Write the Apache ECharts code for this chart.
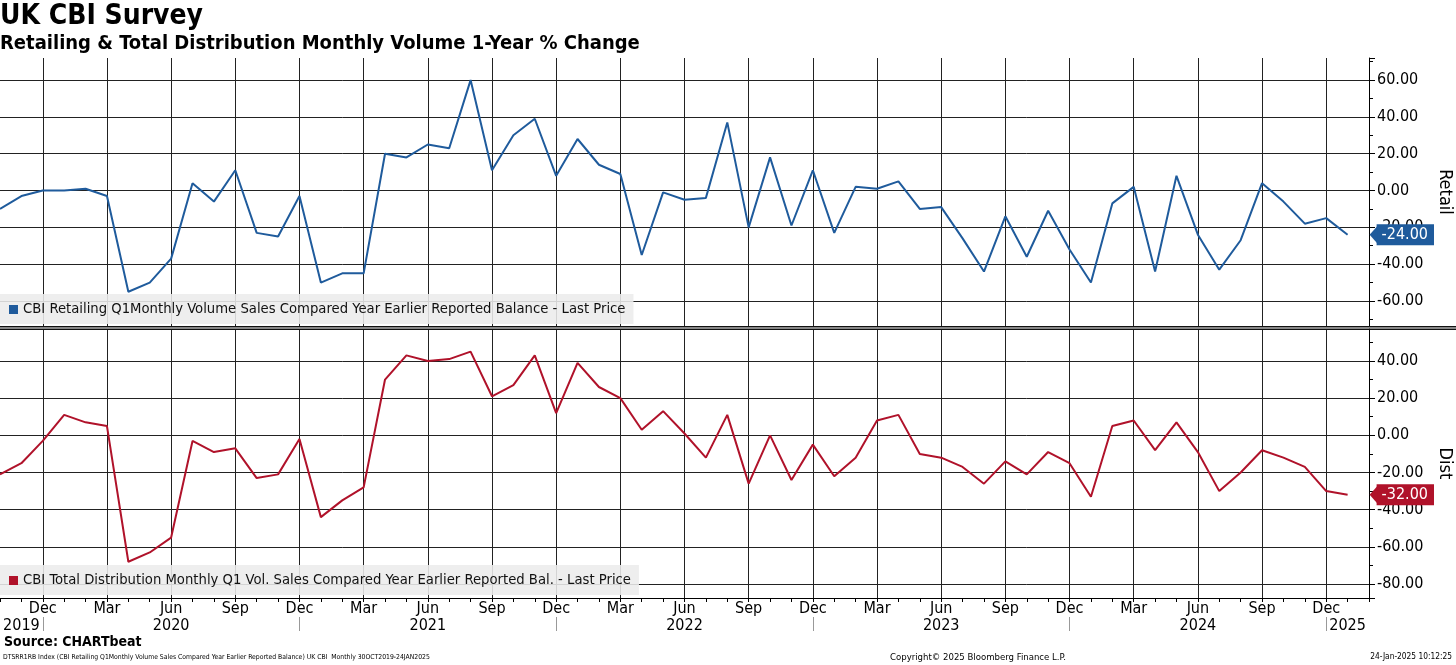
<!DOCTYPE html>
<html>
<head>
<meta charset="utf-8">
<script src="https://cdn.jsdelivr.net/npm/echarts@6/dist/echarts.min.js"></script>
<style>
html,body{margin:0;padding:0;background:#fff;}
#c{width:1456px;height:665px;}
</style>
</head>
<body>
<div id="c"></div>
<script>
const months = [
 '2019-10','2019-11','2019-12',
 '2020-01','2020-02','2020-03','2020-04','2020-05','2020-06','2020-07','2020-08','2020-09','2020-10','2020-11','2020-12',
 '2021-01','2021-02','2021-03','2021-04','2021-05','2021-06','2021-07','2021-08','2021-09','2021-10','2021-11','2021-12',
 '2022-01','2022-02','2022-03','2022-04','2022-05','2022-06','2022-07','2022-08','2022-09','2022-10','2022-11','2022-12',
 '2023-01','2023-02','2023-03','2023-04','2023-05','2023-06','2023-07','2023-08','2023-09','2023-10','2023-11','2023-12',
 '2024-01','2024-02','2024-03','2024-04','2024-05','2024-06','2024-07','2024-08','2024-09','2024-10','2024-11','2024-12',
 '2025-01'
];
const retail = [
 -10,-3,0,
 0,1,-3,-55,-50,-37,4,-6,11,-23,-25,-3,
 -50,-45,-45,20,18,25,23,60,11,30,39,8,
 28,14,9,-35,-1,-5,-4,37,-20,18,-19,11,
 -23,2,1,5,-10,-9,-26,-44,-14,-36,-11,-32,
 -50,-7,2,-44,8,-24,-43,-27,4,-6,-18,-15,
 -24
];
const dist = [
 -21,-15,-3,
 11,7,5,-68,-63,-55,-3,-9,-7,-23,-21,-2,
 -44,-35,-28,30,43,40,41,45,21,27,43,12,
 39,26,20,3,13,1,-12,11,-26,0,-24,-5,
 -22,-12,8,11,-10,-12,-17,-26,-14,-21,-9,-15,
 -33,5,8,-8,7,-9,-30,-20,-8,-12,-17,-30,
 -32
];
const monthNames = ['Jan','Feb','Mar','Apr','May','Jun','Jul','Aug','Sep','Oct','Nov','Dec'];
const yearLabelMonths = ['2019-11','2020-06','2021-06','2022-06','2023-06','2024-06','2025-01'];
const retailName = 'CBI Retailing Q1Monthly Volume Sales Compared Year Earlier Reported Balance - Last Price';
const distName = 'CBI Total Distribution Monthly Q1 Vol. Sales Compared Year Earlier Reported Bal. - Last Price';

const cats = months.concat(['']);
const FONT = "'DejaVu Sans Condensed','DejaVu Sans',sans-serif";
const BLUE = '#1f5b9c', RED = '#b0122a';
const isQuarter = (i, v) => { if (!v) return false; const m = +v.split('-')[1]; return m % 3 === 0; };
const isDec = (i, v) => !!v && v.split('-')[1] === '12';

function xAxisBase(grid, showLabels) {
  return {
    type: 'category', gridIndex: grid, data: cats, boundaryGap: false,
    axisLine: {show: showLabels, onZero: false, lineStyle: {color: '#000', width: 1}},
    axisTick: {show: showLabels, interval: 0, length: 4, lineStyle: {color: '#000'}},
    axisLabel: {show: showLabels, interval: isQuarter, margin: 3, fontSize: 16, color: '#000', fontFamily: FONT,
      formatter: v => v ? monthNames[+v.split('-')[1] - 1] : ''},
    splitLine: {show: true, interval: isQuarter, lineStyle: {color: '#222', width: 1}}
  };
}
function yAxisBase(grid, min, max, name) {
  return {
    type: 'value', gridIndex: grid, position: 'right', min: min, max: max,
    minInterval: 20, maxInterval: 20,
    axisLine: {show: true, lineStyle: {color: '#000', width: 1}},
    axisTick: {show: true, length: 6, lineStyle: {color: '#000'}},
    minorTick: {show: true, splitNumber: 2, length: 4, lineStyle: {color: '#000'}},
    axisLabel: {showMinLabel: false, showMaxLabel: false, margin: 8, fontSize: 16, color: '#000', fontFamily: FONT,
      formatter: v => v.toFixed(2)},
    splitLine: {show: true, showMinLine: false, showMaxLine: false, lineStyle: {color: '#222', width: 1}},
    name: name, nameLocation: 'middle', nameRotate: -90, nameGap: 67,
    nameTextStyle: {fontSize: 18, color: '#000', fontFamily: FONT}
  };
}
function endBox(color) {
  return {
    show: true, formatter: p => Number(p.value).toFixed(2), offset: [22, 0],
    backgroundColor: color, color: '#fff', fontSize: 16, fontFamily: FONT,
    padding: [2, 5, 1, 4], borderColor: color, borderWidth: 1
  };
}
function pointer(seriesVals, color) {
  const last = seriesVals.length - 1;
  return {
    symbol: 'triangle', symbolRotate: 90, symbolSize: [18, 8], symbolOffset: [26, 0],
    itemStyle: {color: color}, label: {show: false}, silent: true,
    data: [{coord: [last, seriesVals[last]]}]
  };
}

const chart = echarts.init(document.getElementById('c'), null, {renderer: 'canvas'});
chart.setOption({
  animation: false,
  backgroundColor: '#fff',
  textStyle: {fontFamily: FONT},
  title: [
    {text: 'UK CBI Survey', left: 0, top: 3, padding: 0, textStyle: {fontSize: 28, fontWeight: 'bold', color: '#000', fontFamily: FONT}},
    {text: 'Retailing & Total Distribution Monthly Volume 1-Year % Change', left: 0, top: 34, padding: 0,
      textStyle: {fontSize: 20, fontWeight: 'bold', color: '#000', fontFamily: FONT}}
  ],
  legend: [
    {data: [retailName], left: 0, top: 294, orient: 'horizontal', icon: 'rect', itemWidth: 9, itemHeight: 9,
      backgroundColor: 'rgba(236,236,236,0.88)', padding: [8, 8, 7, 9], borderRadius: 0, selectedMode: false,
      textStyle: {fontSize: 14.7, color: '#111', fontFamily: FONT}},
    {data: [distName], left: 0, top: 565, orient: 'horizontal', icon: 'rect', itemWidth: 9, itemHeight: 9,
      backgroundColor: 'rgba(236,236,236,0.88)', padding: [8, 8, 7, 9], borderRadius: 0, selectedMode: false,
      textStyle: {fontSize: 14.7, color: '#111', fontFamily: FONT}}
  ],
  grid: [
    {left: 0, right: 87, top: 58, height: 268, containLabel: false, outerBoundsMode: 'none'},
    {left: 0, right: 87, top: 329, height: 269, containLabel: false, outerBoundsMode: 'none'}
  ],
  xAxis: [
    xAxisBase(0, false),
    xAxisBase(1, true),
    {
      type: 'category', gridIndex: 1, data: cats, boundaryGap: false, position: 'bottom', offset: 19,
      axisLine: {show: false, onZero: false},
      axisTick: {show: true, interval: isDec, length: 14, lineStyle: {color: '#999', width: 1}},
      axisLabel: {show: true, interval: (i, v) => yearLabelMonths.indexOf(v) >= 0, margin: 1, fontSize: 16, color: '#000', fontFamily: FONT,
        formatter: v => v ? v.split('-')[0] : ''},
      splitLine: {show: false}
    }
  ],
  yAxis: [
    yAxisBase(0, -73.6, 72, 'Retail'),
    yAxisBase(1, -87.5, 57.2, 'Dist')
  ],
  series: [
    {name: retailName, type: 'line', xAxisIndex: 0, yAxisIndex: 0, data: retail, showSymbol: false, symbol: 'none',
      lineStyle: {color: BLUE, width: 2}, itemStyle: {color: BLUE}, endLabel: endBox(BLUE), markPoint: pointer(retail, BLUE)},
    {name: distName, type: 'line', xAxisIndex: 1, yAxisIndex: 1, data: dist, showSymbol: false, symbol: 'none',
      lineStyle: {color: RED, width: 2}, itemStyle: {color: RED}, endLabel: endBox(RED), markPoint: pointer(dist, RED)}
  ],
  graphic: [
    {type: 'rect', left: 0, top: 326, shape: {width: 1456, height: 1.5}, style: {fill: '#111'}, z: 100},
    {type: 'rect', left: 0, top: 328.5, shape: {width: 1456, height: 1.5}, style: {fill: '#111'}, z: 100},
    {type: 'text', left: 4, top: 635, style: {text: 'Source: CHARTbeat', font: "bold 14px " + FONT, fill: '#000'}},
    {type: 'text', left: 3, top: 654, style: {text: 'DTSRR1RB Index (CBI Retailing Q1Monthly Volume Sales Compared Year Earlier Reported Balance) UK CBI  Monthly 30OCT2019-24JAN2025', font: "6.8px " + FONT, fill: '#000'}},
    {type: 'text', left: 890, top: 653, style: {text: 'Copyright\u00A9 2025 Bloomberg Finance L.P.', font: "9.5px " + FONT, fill: '#000'}},
    {type: 'text', right: 4, top: 653, style: {text: '24-Jan-2025 10:12:25', font: "8.3px " + FONT, fill: '#000'}}
  ]
});
</script>
</body>
</html>
